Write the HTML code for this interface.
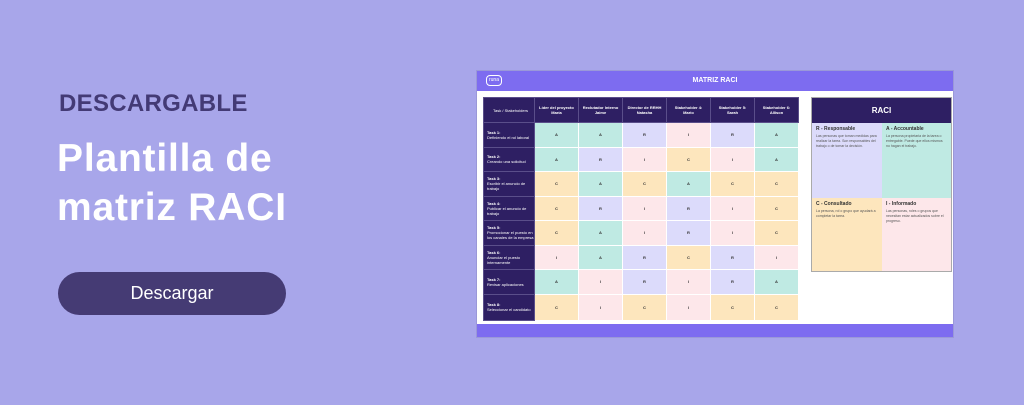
<!DOCTYPE html>
<html><head><meta charset="utf-8"><style>
*{margin:0;padding:0;box-sizing:border-box}
body{width:1024px;height:405px;background:#a8a6ea;font-family:"Liberation Sans",sans-serif;position:relative;overflow:hidden}
.abs{position:absolute}
.t1{left:59px;top:90px;font-size:24px;font-weight:bold;color:#433a75;letter-spacing:0.3px}
.t2{left:57px;top:134px;font-size:39px;font-weight:bold;color:#fff;line-height:49px;letter-spacing:0.8px}
.btn{left:58px;top:272px;width:228px;height:43px;border-radius:22px;background:#453b74;color:#fff;font-size:18px;text-align:center;line-height:43px}
.card{left:476px;top:70px;width:478px;height:268px;background:#fff;border:1px solid #9a98d8}
.hdr{left:0;top:0;width:476px;height:20px;background:#7d6cf0;color:#fff;font-size:7px;font-weight:bold;text-align:center;line-height:20px}
.logo{left:9px;top:4px;width:16px;height:11px;border:1px solid #fff;border-radius:4px;font-size:5px;line-height:9px;text-align:center;color:#fff}
.foot{left:0;top:253px;width:476px;height:13px;background:#7d6cf0}
table{position:absolute;left:6px;top:26px;border-collapse:collapse;font-size:4px;border:1px solid #aaa}
td{border:1px solid #fff;text-align:center;color:#333;width:44px;height:24.5px;font-weight:bold}
td.h{background:#2e1f63;color:#fff;font-weight:bold;border-color:#5a4e8a}
td.f{width:51px;text-align:left;padding-left:3px;background:#2e1f63;color:#fff;border-color:#5a4e8a;font-weight:normal}
.A{background:#bfeae3}.R{background:#dcdbfb}.I{background:#fde7ea}.C{background:#fde6bd}
.raci{left:334px;top:26px;width:141px;height:175px;border:1px solid #aaa}
.rh{position:absolute;left:0;top:0;width:139px;height:25px;background:#2e1f63;color:#fff;font-size:8px;font-weight:bold;text-align:center;line-height:25px}
.q{position:absolute;width:70px;height:75px;padding:4px;font-size:3.5px;color:#555;line-height:5px}
.q b{display:block;font-size:5px;color:#333;margin-bottom:2px}
</style></head><body>
<div class="abs t1">DESCARGABLE</div>
<div class="abs t2">Plantilla de<br>matriz RACI</div>
<div class="abs btn">Descargar</div>
<div class="abs card">
<div class="abs hdr">MATRIZ RACI</div>
<div class="abs logo">runa</div>
<table>
<tr style="height:25px"><td class="f h" style="text-align:center">Task / Stakeholders</td><td class="h">Líder del proyecto<br>María</td><td class="h">Reclutador Interno<br>Jaime</td><td class="h">Director de RRHH<br>Natasha</td><td class="h">Stakeholder 4:<br>Mario</td><td class="h">Stakeholder 5:<br>Sarah</td><td class="h">Stakeholder 6:<br>Allison</td></tr>
<tr><td class="f"><b>Task 1:</b><br>Definiendo el rol laboral</td><td class="A">A</td><td class="A">A</td><td class="R">R</td><td class="I">I</td><td class="R">R</td><td class="A">A</td></tr>
<tr><td class="f"><b>Task 2:</b><br>Creando una solicitud</td><td class="A">A</td><td class="R">R</td><td class="I">I</td><td class="C">C</td><td class="I">I</td><td class="A">A</td></tr>
<tr><td class="f"><b>Task 3:</b><br>Escribir el anuncio de trabajo</td><td class="C">C</td><td class="A">A</td><td class="C">C</td><td class="A">A</td><td class="C">C</td><td class="C">C</td></tr>
<tr><td class="f"><b>Task 4:</b><br>Publicar el anuncio de trabajo</td><td class="C">C</td><td class="R">R</td><td class="I">I</td><td class="R">R</td><td class="I">I</td><td class="C">C</td></tr>
<tr><td class="f"><b>Task 5:</b><br>Promocionar el puesto en los canales de la empresa</td><td class="C">C</td><td class="A">A</td><td class="I">I</td><td class="R">R</td><td class="I">I</td><td class="C">C</td></tr>
<tr><td class="f"><b>Task 6:</b><br>Anunciar el puesto internamente</td><td class="I">I</td><td class="A">A</td><td class="R">R</td><td class="C">C</td><td class="R">R</td><td class="I">I</td></tr>
<tr><td class="f"><b>Task 7:</b><br>Revisar aplicaciones</td><td class="A">A</td><td class="I">I</td><td class="R">R</td><td class="I">I</td><td class="R">R</td><td class="A">A</td></tr>
<tr style="height:26px"><td class="f"><b>Task 8:</b><br>Seleccionar el candidato</td><td class="C">C</td><td class="I">I</td><td class="C">C</td><td class="I">I</td><td class="C">C</td><td class="C">C</td></tr>
</table>
<div class="abs raci">
<div class="rh">RACI</div>
<div class="q R" style="left:0;top:25px"><b>R - Responsable</b>Las personas que toman medidas para realizar la tarea. Son responsables del trabajo o de tomar la decisión.</div>
<div class="q A" style="left:70px;top:25px;width:69px"><b>A - Accountable</b>La persona propietaria de la tarea o entregable. Puede que ellos mismos no hagan el trabajo.</div>
<div class="q C" style="left:0;top:100px;height:73px"><b>C - Consultado</b>La persona, rol o grupo que ayudará a completar la tarea.</div>
<div class="q I" style="left:70px;top:100px;width:69px;height:73px"><b>I - Informado</b>Las personas, roles o grupos que necesitan estar actualizados sobre el progreso.</div>
</div>
<div class="abs foot"></div>
</div>
</body></html>
